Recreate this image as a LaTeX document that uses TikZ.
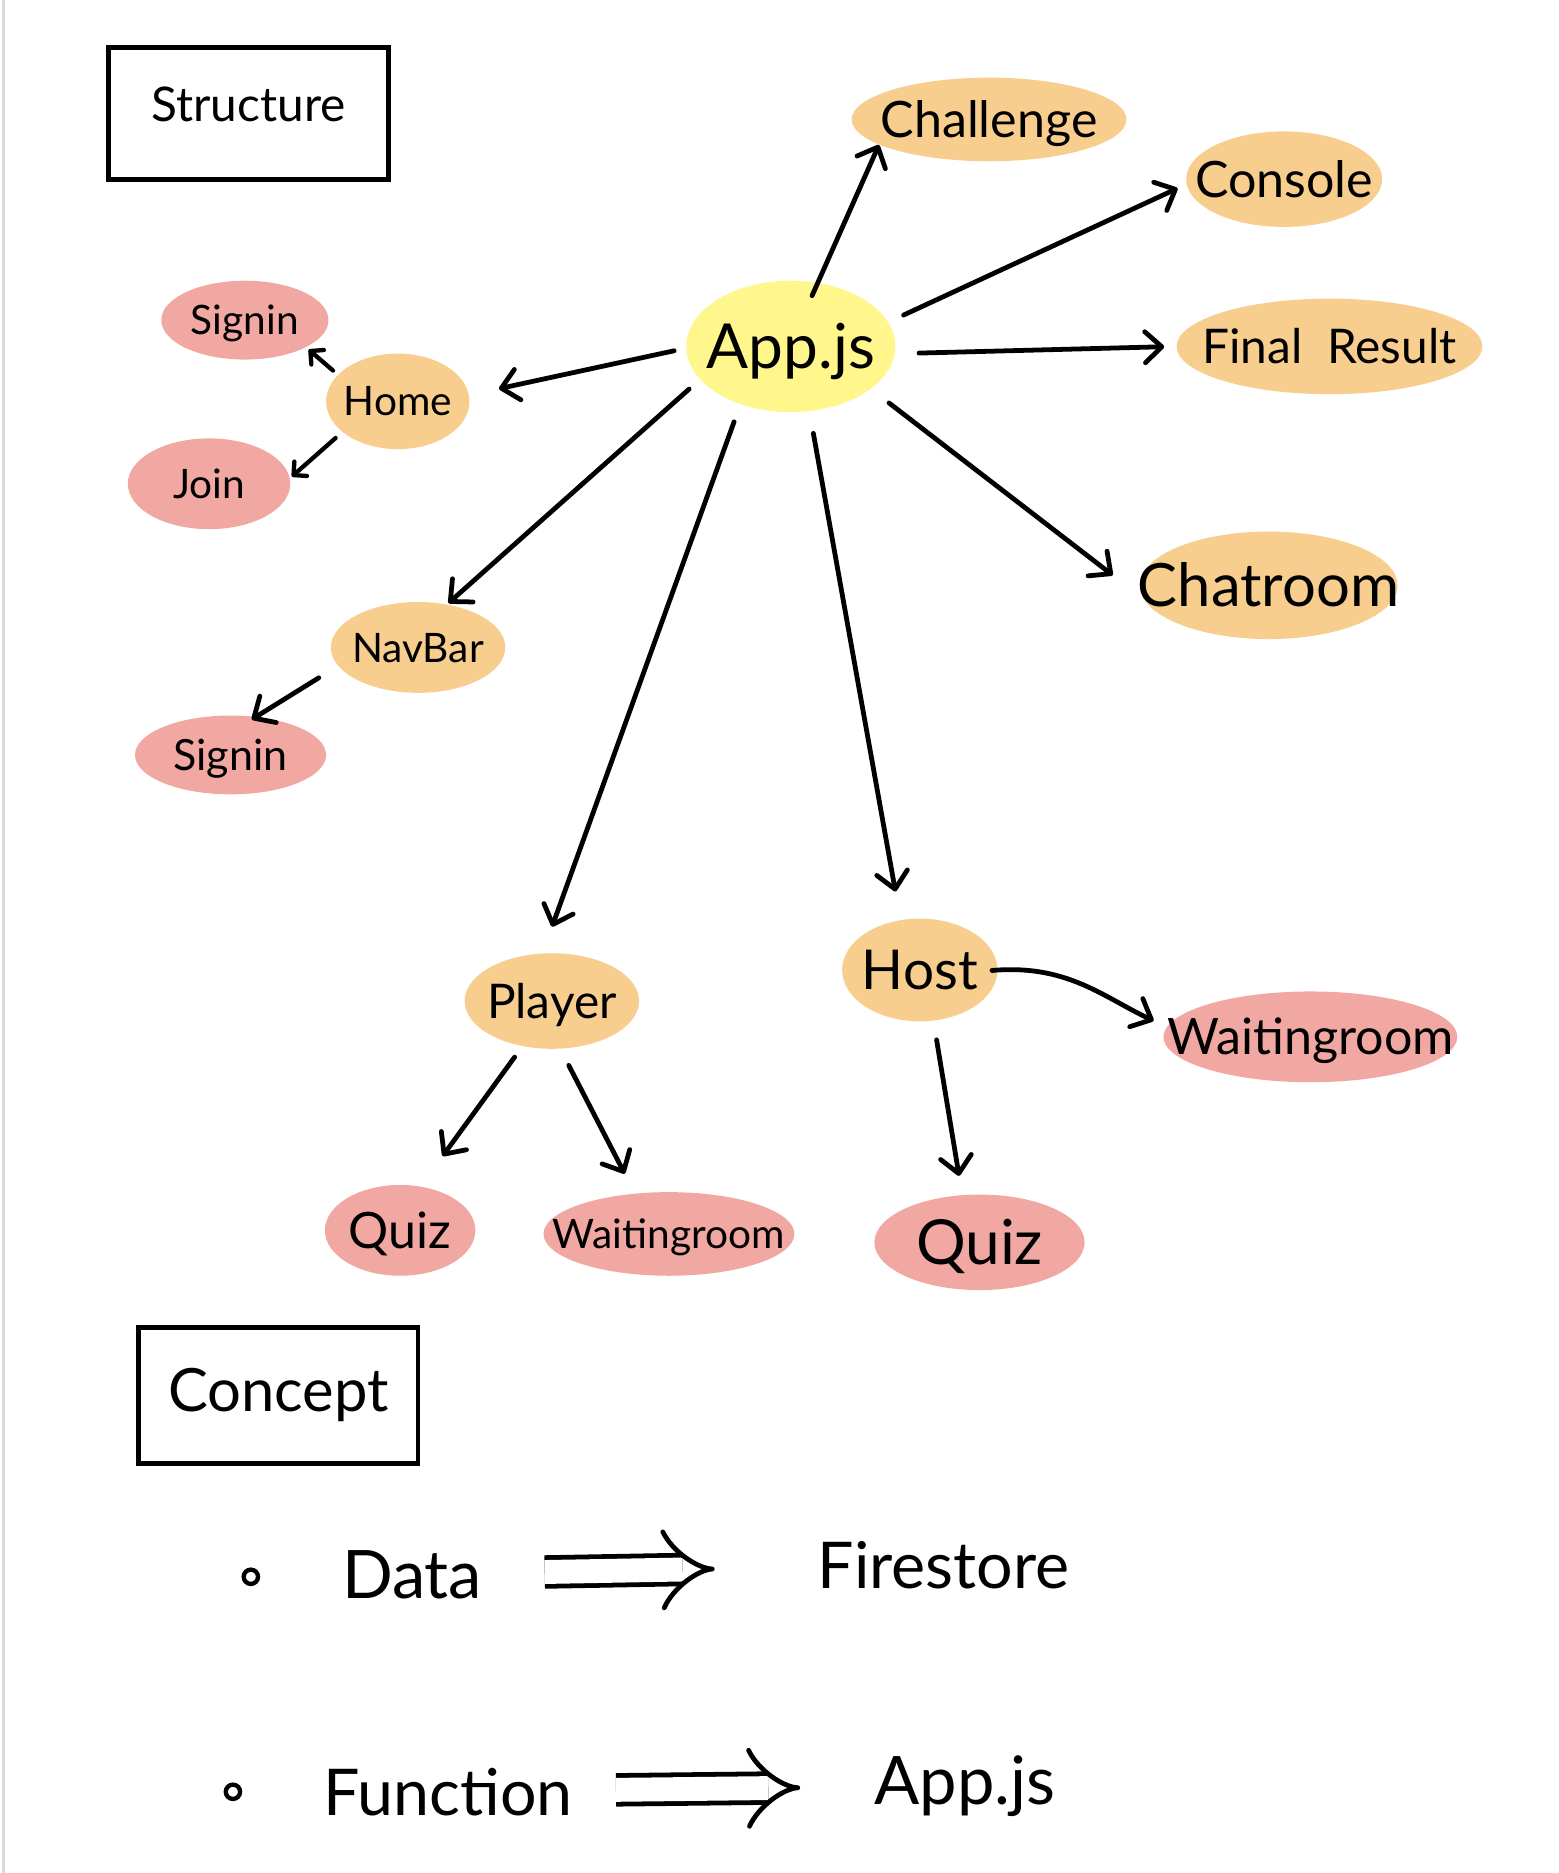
\documentclass[tikz,border=0pt]{standalone}
\usepackage{fontspec}
\setmainfont{Lato}
\usetikzlibrary{arrows.meta,shapes.geometric,calc}
\definecolor{orng}{HTML}{F7CE8E}
\definecolor{pnk}{HTML}{F2A8A2}
\definecolor{ylw}{HTML}{FFF68C}
\newcommand{\fsz}[1]{\fontsize{#1}{#1}\selectfont}
\newcommand{\ctext}[1]{\smash{\makebox[0pt]{\raisebox{-0.36em}{#1}}}}
\tikzset{
  blob/.style={ellipse, inner sep=0pt, draw=none},
  ob/.style={blob, fill=orng},
  pb/.style={blob, fill=pnk},
  arr/.style={-{Straight Barb[length=7pt,width=13pt,round]}, line width=2pt, line cap=round},
  sarr/.style={-{Straight Barb[length=4pt,width=8pt,round]}, line width=1.8pt, line cap=round},
  hbox/.style={draw, line width=2pt, rectangle, inner sep=0pt},
  plain/.style={inner sep=0pt},
  dbl/.style={double, double distance=10pt, line width=2pt, -{Implies[length=12pt,width=32pt]}},
}
\begin{document}
\begin{tikzpicture}[x=0.5pt, y=-0.5pt]
\useasboundingbox (0,0) rectangle (1305,1568);
\fill[white] (0,0) rectangle (1305,1568);
\draw[black!15, line width=1.5pt] (3,0) -- (3,1568);

% headers
\node[hbox, minimum width=117pt, minimum height=55pt, font=\fsz{20}] (structure) at (208,95) {\raisebox{8pt}{Structure}};
\node[hbox, minimum width=117pt, minimum height=57pt, font=\fsz{25}] (concept) at (233,1168) {Concept};

% blobs
\node[blob, fill=ylw, minimum width=87.5pt, minimum height=55pt, font=\fsz{26}] (app) at (662,290) {\ctext{App.js}};
\node[ob, minimum width=115pt, minimum height=35pt, font=\fsz{21}] (challenge) at (828,100) {\ctext{Challenge}};
\node[ob, minimum width=82pt, minimum height=40pt, font=\fsz{21}] (console) at (1075,150) {\ctext{Console}};
\node[ob, minimum width=128pt, minimum height=40pt, font=\fsz{20}] (final) at (1113,290) {\ctext{Final\ \ Result}};
\node[ob, minimum width=108pt, minimum height=45pt, font=\fsz{25}] (chat) at (1062,490) {\ctext{Chatroom}};
\node[ob, minimum width=60pt, minimum height=40pt, font=\fsz{17}] (home) at (333,336) {\ctext{Home}};
\node[pb, minimum width=70pt, minimum height=33pt, font=\fsz{17}] (signa) at (205,268) {\ctext{Signin}};
\node[pb, minimum width=68pt, minimum height=38pt, font=\fsz{17}] (join) at (175,405) {\ctext{Join}};
\node[ob, minimum width=73pt, minimum height=38pt, font=\fsz{17}] (navbar) at (350,542) {\ctext{NavBar}};
\node[pb, minimum width=80pt, minimum height=33pt, font=\fsz{18}] (signb) at (193,632) {\ctext{Signin}};
\node[ob, minimum width=73pt, minimum height=40pt, font=\fsz{20}] (player) at (462,838) {\ctext{Player}};
\node[ob, minimum width=65pt, minimum height=43pt, font=\fsz{23}] (host) at (770,812) {\ctext{Host}};
\node[pb, minimum width=123pt, minimum height=38pt, font=\fsz{21}] (wra) at (1097,868) {\ctext{Waitingroom}};
\node[pb, minimum width=63pt, minimum height=38pt, font=\fsz{21}] (quiza) at (335,1030) {\ctext{Quiz}};
\node[pb, minimum width=105pt, minimum height=35pt, font=\fsz{17}] (wrb) at (560,1033) {\ctext{Waitingroom}};
\node[pb, minimum width=88pt, minimum height=40pt, font=\fsz{26}] (quizb) at (820,1040) {\ctext{Quiz}};

% connectors
\draw[arr, shorten <=-6pt] (app.67) -- (challenge.193);
\draw[arr, shorten <=7pt, shorten >=4pt] (app.14) -- (console.183);
\draw[arr, shorten <=10pt, shorten >=5pt] (app.-4) -- (final.180);
\draw[arr, shorten <=9.5pt, shorten >=16pt] (app.-28) -- (chat.186);
\draw[arr, shorten <=5pt, shorten >=12.7pt] (app.181) -- (home.5);
\draw[arr, shorten <=6pt, shorten >=0.7pt] (app.200) -- (navbar.56);
\draw[arr, shorten <=7.7pt, shorten >=11.7pt] (app.229) -- (player.101);
\draw[arr, shorten <=9.3pt, shorten >=12pt] (app.-74) -- (host.111);
\draw[sarr, shorten <=2.6pt, shorten >=1.4pt] (home.156) -- (signa.-24);
\draw[sarr, shorten <=3.7pt, shorten >=1pt] (home.209) -- (join.4);
\draw[arr, shorten <=9.4pt, shorten >=-2.3pt] (navbar.193) -- (signb.56);
\draw[arr, shorten <=5.5pt, shorten >=15.6pt] (player.237) -- (quiza.65);
\draw[arr, shorten <=7.7pt, shorten >=9.2pt] (player.-80) -- (wrb.130);
\draw[arr, shorten <=-2.5pt, shorten >=6pt] (host.0) to[out=5,in=155] (wra.176);
\draw[arr, shorten <=8pt, shorten >=8pt] (host.-75) -- (quizb.110);

% concept list
\node[circle, draw, line width=1.8pt, minimum size=6pt, inner sep=0pt] (b1) at (210,1320) {};
\node[circle, draw, line width=1.8pt, minimum size=6pt, inner sep=0pt] (b2) at (195,1500) {};
\node[plain, font=\fsz{28}] (data) at (345,1318) {Data};
\node[plain, font=\fsz{27}] (fire) at (790,1310) {Firestore};
\node[plain, font=\fsz{27}] (func) at (375,1500) {Function};
\node[plain, font=\fsz{28}] (app2) at (808,1495) {App.js};
\draw[dbl, shorten <=26pt, shorten >=43pt] (data) -- (fire);
\draw[dbl, shorten <=18pt, shorten >=31pt] (func) -- (app2);
\end{tikzpicture}
\end{document}
